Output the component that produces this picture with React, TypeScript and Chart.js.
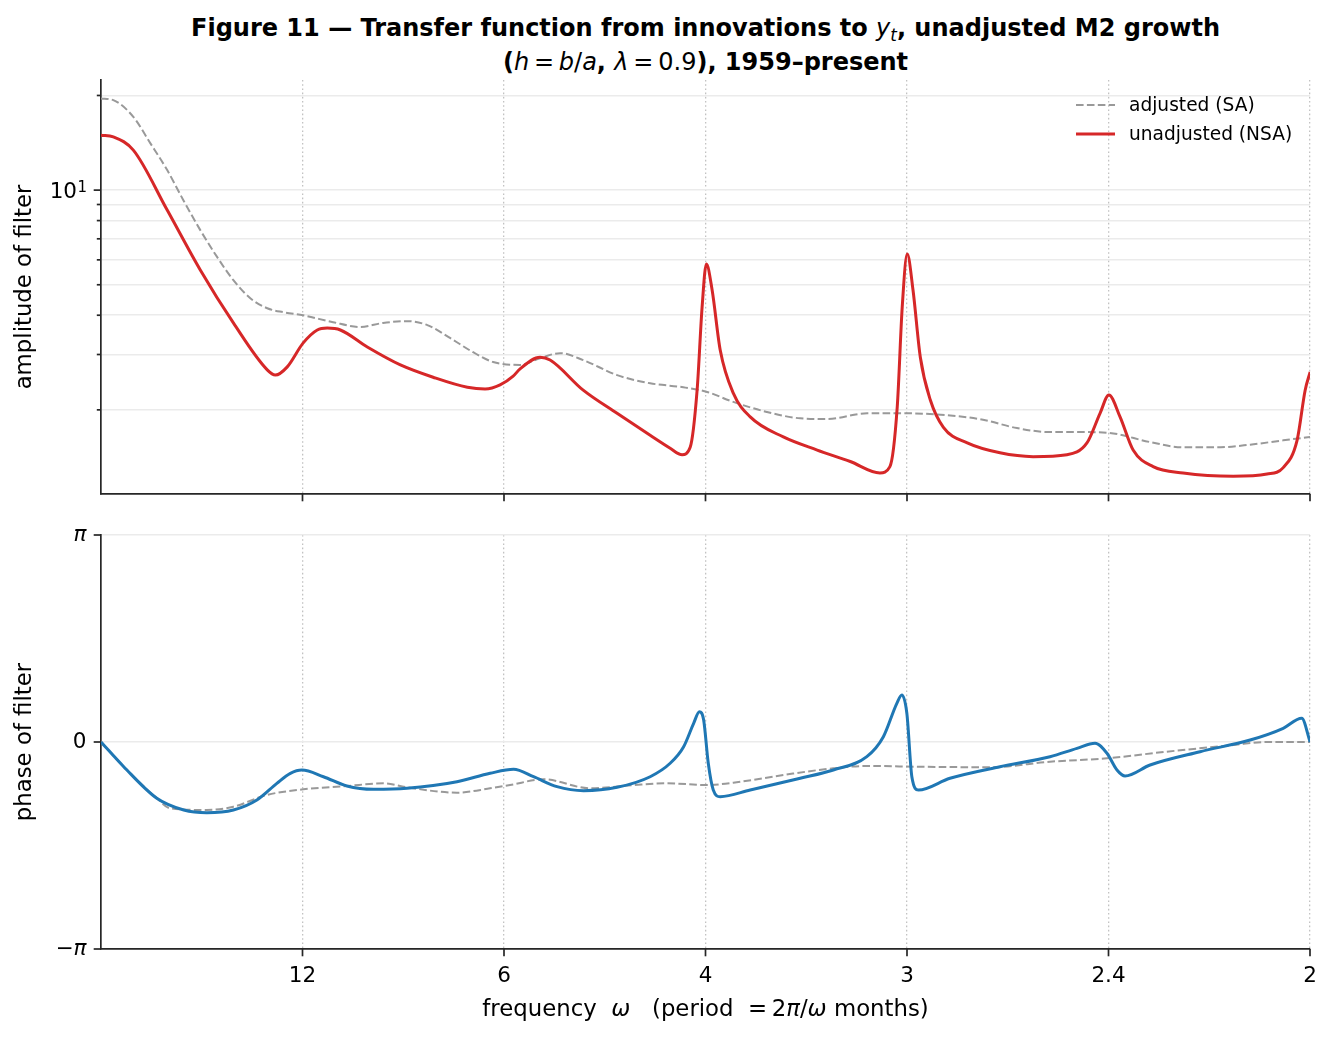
import React, { useEffect, useRef } from 'react';
import { Chart, registerables } from 'chart.js';

Chart.register(...registerables);

const FONT = "'DejaVu Sans', 'Liberation Sans', sans-serif";

// x-axis ticks: periods in months, placed at omega = 2*pi/period
const periodTicks = [12, 6, 4, 3, 2.4, 2];
const periodLabels = ['12', '6', '4', '3', '2.4', '2'];

// amplitude axis (log): gridlines at these values, only the decade is labelled
const ampGridValues = [2, 3, 4, 5, 6, 7, 8, 9, 10, 20];
const ampDecade = 10;
const ampDecadeBase = '10';
const ampDecadeExp = '1';
const ampMin = 1.08;
const ampMax = 22.4;

// phase axis
const phaseTicks = [-Math.PI, 0, Math.PI];
const phaseTickLabels = ['−π', '0', 'π'];

// amplitude, adjusted (SA)
const ampOmegaSA = [0, 0.032, 0.084, 0.128, 0.172, 0.214, 0.258, 0.302, 0.344, 0.388, 0.432, 0.474, 0.525, 0.603, 0.674, 0.733, 0.796, 0.848, 0.908, 0.967, 1.019, 1.089, 1.141, 1.193, 1.253, 1.341, 1.427, 1.513, 1.575, 1.643, 1.73, 1.817, 1.887, 1.991, 2.095, 2.207, 2.292, 2.38, 2.466, 2.552, 2.619, 2.726, 2.812, 2.9, 2.986, 3.072, 3.142];
const ampSA = [19.57, 19.33, 17.1, 14.11, 11.58, 9.29, 7.46, 6.12, 5.17, 4.53, 4.21, 4.09, 4.0, 3.8, 3.67, 3.78, 3.83, 3.72, 3.38, 3.05, 2.84, 2.78, 2.92, 3.03, 2.88, 2.58, 2.43, 2.36, 2.28, 2.12, 1.97, 1.88, 1.87, 1.95, 1.95, 1.92, 1.86, 1.75, 1.7, 1.7, 1.69, 1.58, 1.52, 1.52, 1.55, 1.6, 1.64];

// amplitude, unadjusted (NSA)
const ampOmegaNSA = [0, 0.032, 0.084, 0.172, 0.258, 0.344, 0.432, 0.453, 0.484, 0.525, 0.562, 0.588, 0.622, 0.692, 0.778, 0.863, 0.952, 0.998, 1.037, 1.071, 1.089, 1.141, 1.167, 1.253, 1.341, 1.427, 1.479, 1.51, 1.531, 1.549, 1.562, 1.573, 1.588, 1.609, 1.643, 1.687, 1.773, 1.861, 1.947, 2.024, 2.05, 2.069, 2.082, 2.095, 2.11, 2.129, 2.155, 2.189, 2.251, 2.336, 2.422, 2.51, 2.562, 2.596, 2.619, 2.648, 2.682, 2.734, 2.812, 2.942, 3.03, 3.072, 3.108, 3.129, 3.142];
const ampNSA = [14.96, 14.77, 13.4, 8.64, 5.57, 3.78, 2.68, 2.58, 2.74, 3.26, 3.59, 3.64, 3.59, 3.17, 2.78, 2.54, 2.36, 2.33, 2.4, 2.56, 2.7, 2.94, 2.88, 2.31, 1.95, 1.66, 1.51, 1.44, 1.52, 2.31, 4.25, 5.82, 4.81, 3.1, 2.26, 1.9, 1.64, 1.49, 1.37, 1.26, 1.32, 2.04, 4.25, 6.26, 4.81, 2.94, 2.15, 1.76, 1.57, 1.46, 1.42, 1.44, 1.57, 1.95, 2.23, 1.9, 1.49, 1.32, 1.26, 1.23, 1.25, 1.31, 1.6, 2.31, 2.64];

// phase, adjusted (SA)
const phaseOmegaSA = [0, 0.059, 0.145, 0.18, 0.275, 0.344, 0.431, 0.526, 0.639, 0.734, 0.795, 0.925, 1.011, 1.063, 1.15, 1.271, 1.384, 1.47, 1.574, 1.643, 1.773, 1.903, 1.99, 2.128, 2.31, 2.466, 2.614, 2.769, 2.942, 3.029, 3.142];
const phaseSA = [0, -0.375, -0.854, -1.006, -1.032, -0.982, -0.804, -0.718, -0.668, -0.627, -0.688, -0.769, -0.703, -0.653, -0.566, -0.703, -0.653, -0.627, -0.653, -0.618, -0.501, -0.399, -0.364, -0.375, -0.384, -0.299, -0.247, -0.147, -0.046, 0, 0];

// phase, unadjusted (NSA)
const phaseOmegaNSA = [0, 0.059, 0.145, 0.215, 0.275, 0.344, 0.405, 0.457, 0.492, 0.522, 0.578, 0.639, 0.708, 0.795, 0.925, 1.011, 1.072, 1.124, 1.185, 1.254, 1.341, 1.427, 1.479, 1.514, 1.54, 1.555, 1.566, 1.578, 1.591, 1.609, 1.687, 1.817, 1.903, 1.99, 2.033, 2.068, 2.081, 2.094, 2.107, 2.124, 2.206, 2.336, 2.466, 2.536, 2.583, 2.614, 2.64, 2.661, 2.726, 2.856, 2.986, 3.072, 3.12, 3.142];
const phaseNSA = [0, -0.375, -0.854, -1.032, -1.073, -1.032, -0.88, -0.627, -0.475, -0.425, -0.527, -0.668, -0.718, -0.703, -0.603, -0.475, -0.414, -0.527, -0.678, -0.739, -0.688, -0.527, -0.323, -0.071, 0.284, 0.46, 0.334, -0.323, -0.729, -0.83, -0.729, -0.551, -0.425, -0.223, 0.08, 0.587, 0.713, 0.436, -0.527, -0.729, -0.551, -0.375, -0.223, -0.096, -0.02, -0.171, -0.425, -0.516, -0.349, -0.147, 0.03, 0.208, 0.36, 0];

const zip = (xs: number[], ys: number[]) => xs.map((x, i) => ({ x, y: ys[i] }));

const SPINE = '#262626';
const TICK_FONT = { family: FONT, size: 21.5 };
const LABEL_FONT = { family: FONT, size: 22.8 };
const AMP_LABEL_PAD = 24;

const noPad = (s: any) => {
  s.paddingTop = 0;
  s.paddingBottom = 0;
  s.paddingLeft = 0;
  s.paddingRight = 0;
};

function xScale(showLabels: boolean): any {
  return {
    type: 'linear',
    min: 0,
    max: Math.PI,
    afterBuildTicks: (s: any) => {
      s.ticks = periodTicks.map((p) => ({ value: (2 * Math.PI) / p }));
    },
    afterFit: (s: any) => {
      s.height = showLabels ? 88 : 21;
      noPad(s);
    },
    ticks: {
      display: showLabels,
      autoSkip: false,
      maxRotation: 0,
      padding: 15,
      font: TICK_FONT,
      color: '#000',
      callback: (_v: any, i: number) => periodLabels[i],
    },
    grid: { color: '#c2c2c2', lineWidth: 1.3, drawTicks: false },
    border: { display: true, color: SPINE, width: 1.7, dash: [1.6, 2.6] },
  };
}

function tickMarks(isMinor: (v: number) => boolean) {
  return {
    id: 'tickMarks',
    afterDraw(chart: any) {
      const { ctx, chartArea: a } = chart;
      const xs = chart.scales.x;
      const ys = chart.scales.y;
      ctx.save();
      ctx.strokeStyle = SPINE;
      ctx.lineWidth = 1.7;
      ctx.setLineDash([]);
      xs.ticks.forEach((t: any) => {
        const px = xs.getPixelForValue(t.value);
        ctx.beginPath();
        ctx.moveTo(px, a.bottom);
        ctx.lineTo(px, a.bottom + 7.3);
        ctx.stroke();
      });
      ys.ticks.forEach((t: any) => {
        const py = ys.getPixelForValue(t.value);
        const len = isMinor(t.value) ? 4.2 : 7.3;
        ctx.beginPath();
        ctx.moveTo(a.left - len, py);
        ctx.lineTo(a.left, py);
        ctx.stroke();
      });
      ctx.restore();
    },
  };
}

// superscript exponent for the decade label of the log axis
const decadeExponent = {
  id: 'decadeExponent',
  afterDraw(chart: any) {
    const { ctx, chartArea: a } = chart;
    const ys = chart.scales.y;
    const py = ys.getPixelForValue(ampDecade);
    ctx.save();
    ctx.font = `15px ${FONT}`;
    ctx.fillStyle = '#000';
    ctx.textAlign = 'left';
    ctx.textBaseline = 'alphabetic';
    ctx.fillText(ampDecadeExp, a.left - AMP_LABEL_PAD + 0.5, py + 1.5);
    ctx.restore();
  },
};

const innerLegend = {
  id: 'innerLegend',
  afterDraw(chart: any) {
    const { ctx, chartArea: a } = chart;
    ctx.save();
    ctx.font = `18.6px ${FONT}`;
    ctx.textBaseline = 'middle';
    ctx.fillStyle = '#000';
    chart.data.datasets.forEach((ds: any, k: number) => {
      const y = a.top + 25 + k * 29;
      ctx.strokeStyle = ds.borderColor;
      ctx.lineWidth = ds.borderWidth;
      ctx.setLineDash(ds.borderDash || []);
      ctx.beginPath();
      ctx.moveTo(a.right - 234, y);
      ctx.lineTo(a.right - 195, y);
      ctx.stroke();
      ctx.setLineDash([]);
      ctx.fillText(ds.label, a.right - 181, y + 1);
    });
    ctx.restore();
  },
};

const lineStyle = {
  pointRadius: 0,
  fill: false,
  cubicInterpolationMode: 'monotone' as const,
};

export default function App() {
  const topRef = useRef<HTMLCanvasElement>(null);
  const botRef = useRef<HTMLCanvasElement>(null);

  useEffect(() => {
    const top = new Chart(topRef.current!, {
      type: 'line',
      data: {
        datasets: [
          { label: 'adjusted (SA)', data: zip(ampOmegaSA, ampSA), borderColor: '#999999', borderWidth: 2, borderDash: [7.6, 3.3], order: 2, ...lineStyle },
          { label: 'unadjusted (NSA)', data: zip(ampOmegaNSA, ampNSA), borderColor: '#d62728', borderWidth: 3, order: 1, ...lineStyle },
        ],
      },
      options: {
        animation: false,
        responsive: true,
        maintainAspectRatio: false,
        events: [],
        layout: { padding: { top: 10, right: 22, left: 0, bottom: 0 } },
        plugins: { legend: { display: false }, tooltip: { enabled: false } },
        scales: {
          x: xScale(false),
          y: {
            type: 'logarithmic',
            min: ampMin,
            max: ampMax,
            afterBuildTicks: (s: any) => {
              s.ticks = ampGridValues.map((v) => ({ value: v }));
            },
            afterFit: (s: any) => {
              s.width = 101;
              noPad(s);
            },
            ticks: {
              autoSkip: false,
              padding: AMP_LABEL_PAD,
              labelOffset: 2,
              font: TICK_FONT,
              color: '#000',
              callback: (v: any) => (v === ampDecade ? ampDecadeBase : ''),
            },
            grid: { color: '#ebebeb', lineWidth: 1.6, drawTicks: false },
            border: { display: true, color: SPINE, width: 1.7 },
            title: { display: true, text: 'amplitude of filter', font: LABEL_FONT, color: '#000', padding: { top: 11.5, bottom: 0 } },
          },
        },
      } as any,
      plugins: [tickMarks((v) => v !== ampDecade), decadeExponent, innerLegend],
    });

    const bot = new Chart(botRef.current!, {
      type: 'line',
      data: {
        datasets: [
          { label: 'adjusted (SA)', data: zip(phaseOmegaSA, phaseSA), borderColor: '#999999', borderWidth: 2, borderDash: [7.6, 3.3], order: 2, ...lineStyle },
          { label: 'unadjusted (NSA)', data: zip(phaseOmegaNSA, phaseNSA), borderColor: '#1f77b4', borderWidth: 3, order: 1, ...lineStyle },
        ],
      },
      options: {
        animation: false,
        responsive: true,
        maintainAspectRatio: false,
        events: [],
        layout: { padding: { top: 20, right: 22, left: 0, bottom: 0 } },
        plugins: { legend: { display: false }, tooltip: { enabled: false } },
        scales: {
          x: xScale(true),
          y: {
            type: 'linear',
            min: -Math.PI,
            max: Math.PI,
            afterBuildTicks: (s: any) => {
              s.ticks = phaseTicks.map((v) => ({ value: v }));
            },
            afterFit: (s: any) => {
              s.width = 101;
              noPad(s);
            },
            ticks: {
              autoSkip: false,
              padding: 14.5,
              color: '#000',
              font: (c: any) => ({ ...TICK_FONT, style: c.index === 1 ? 'normal' : 'italic' }),
              callback: (_v: any, i: number) => phaseTickLabels[i],
            },
            grid: { color: '#ebebeb', lineWidth: 1.6, drawTicks: false },
            border: { display: true, color: SPINE, width: 1.7 },
            title: { display: true, text: 'phase of filter', font: LABEL_FONT, color: '#000', padding: { top: 11.5, bottom: 0 } },
          },
        },
      } as any,
      plugins: [tickMarks(() => false)],
    });

    return () => {
      top.destroy();
      bot.destroy();
    };
  }, []);

  const mathStyle: React.CSSProperties = { fontWeight: 'normal' };

  return (
    <div style={{ position: 'absolute', left: 0, top: 0, width: 1332, height: 1037, background: '#fff', fontFamily: FONT, color: '#000', overflow: 'hidden' }}>
      <div style={{ position: 'absolute', left: 101, width: 1209, top: 12, textAlign: 'center', fontSize: 24, fontWeight: 'bold', lineHeight: '32px', whiteSpace: 'nowrap' }}>
        <div>
          Figure 11 — Transfer function from innovations to{' '}
          <span style={mathStyle}>
            <i>y</i>
            <i style={{ fontSize: '70%', position: 'relative', top: '0.3em' }}>t</i>
          </span>
          , unadjusted M2 growth
        </div>
        <div>
          (<span style={mathStyle}><i>h</i>{'\u2009=\u2009'}<i>b</i>/<i>a</i></span>, <span style={mathStyle}><i>λ</i>{'\u2009=\u2009'}0.9</span>), 1959–present
        </div>
      </div>
      <div style={{ position: 'absolute', left: 0, top: 70, width: 1332, height: 445 }}>
        <canvas ref={topRef} />
      </div>
      <div style={{ position: 'absolute', left: 0, top: 515, width: 1332, height: 522 }}>
        <canvas ref={botRef} />
      </div>
      <div style={{ position: 'absolute', left: 101, width: 1209, top: 993, textAlign: 'center', fontSize: 22.8, lineHeight: '30px', whiteSpace: 'pre' }}>
        {'frequency  '}
        <i>ω</i>
        {'   (period  =\u20092'}
        <i>π</i>/<i>ω</i>
        {' months)'}
      </div>
    </div>
  );
}
